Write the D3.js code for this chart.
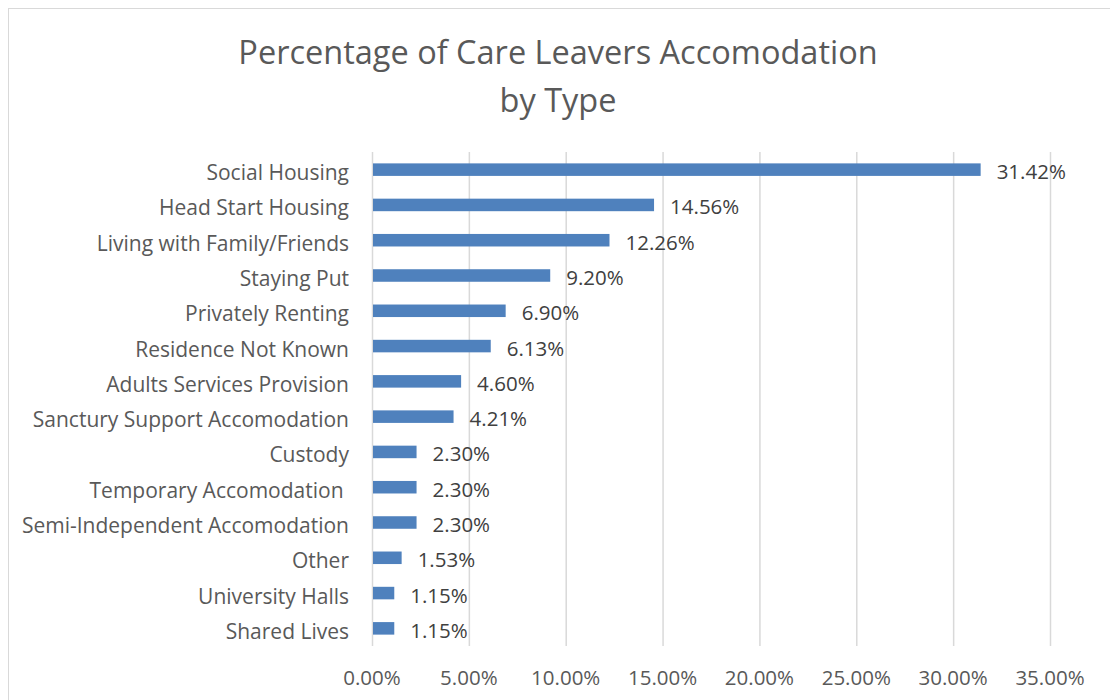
<!DOCTYPE html>
<html><head><meta charset="utf-8">
<script src="https://cdn.jsdelivr.net/npm/d3@7"></script>
<style>
html,body{margin:0;padding:0;background:#fff;}
text{font-family:"Open Sans",Lato,sans-serif;white-space:pre;}
</style></head>
<body>
<svg id="c" width="1110" height="700"></svg>
<script>
const categories = ["Social Housing","Head Start Housing","Living with Family/Friends","Staying Put","Privately Renting","Residence Not Known","Adults Services Provision","Sanctury Support Accomodation","Custody","Temporary Accomodation ","Semi-Independent Accomodation","Other","University Halls","Shared Lives"];
const values = [31.42,14.56,12.26,9.20,6.90,6.13,4.60,4.21,2.30,2.30,2.30,1.53,1.15,1.15];
const ticks = [0,5,10,15,20,25,30,35];
const titleLines = ["Percentage of Care Leavers Accomodation","by Type"];

const svg = d3.select("#c");
svg.append("rect").attr("x",8.5).attr("y",8.5).attr("width",1120).attr("height",720)
  .attr("fill","#fff").attr("stroke","#d9d9d9").attr("stroke-width",1);

const x = d3.scaleLinear().domain([0,35]).range([372,1050]);
const y = d3.scaleBand().domain(categories).range([152,646]).paddingInner(0.645).paddingOuter(0.3225);

svg.append("g").selectAll("line").data(ticks).join("line")
  .attr("x1",d=>x(d)+0.5).attr("x2",d=>x(d)+0.5).attr("y1",152).attr("y2",646)
  .attr("stroke","#d9d9d9").attr("stroke-width",1.5);

svg.append("g").selectAll("text").data(ticks).join("text")
  .attr("x",d=>x(d)).attr("y",685).attr("text-anchor","middle")
  .attr("font-size",20.5).attr("fill","#595959")
  .text(d=>d3.format(".2f")(d)+"%");

svg.append("g").selectAll("rect").data(values).join("rect")
  .attr("x",x(0)+1).attr("y",(d,i)=>y(categories[i]))
  .attr("width",d=>x(d)-x(0)-1).attr("height",y.bandwidth())
  .attr("fill","#4f81bd");

svg.append("g").selectAll("text").data(categories).join("text")
  .attr("x",349).attr("y",d=>y(d)+y.bandwidth()/2+10.5).attr("text-anchor","end")
  .attr("font-size",21).attr("fill","#595959").text(d=>d);

svg.append("g").selectAll("text").data(values).join("text")
  .attr("x",d=>x(d)+16).attr("y",(d,i)=>y(categories[i])+y.bandwidth()/2+9.5)
  .attr("font-size",20.5).attr("fill","#404040")
  .text(d=>d3.format(".2f")(d)+"%");

svg.append("g").selectAll("text").data(titleLines).join("text")
  .attr("x",558).attr("y",(d,i)=>64+i*48).attr("text-anchor","middle")
  .attr("font-size",32.5).attr("fill","#595959").text(d=>d);
</script>
</body></html>
